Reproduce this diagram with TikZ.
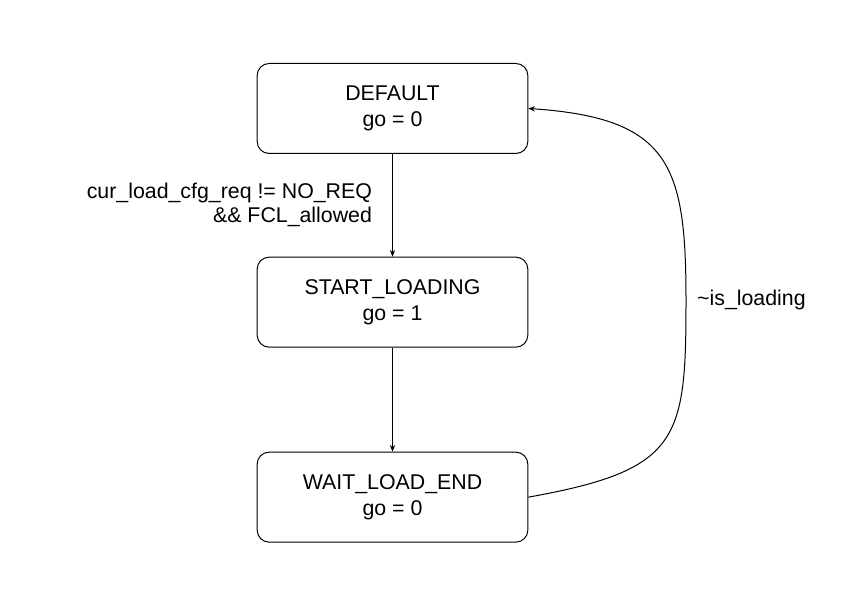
\documentclass[tikz,border=0pt]{standalone}
\usepackage{fontspec}
\setmainfont{Liberation Sans}
\usetikzlibrary{arrows.meta, positioning}
\definecolor{linecol}{RGB}{0, 0, 0}
\tikzset{
  state/.style = {draw=linecol, rounded corners=9pt, align=center,
                  line width=0.75pt, minimum width=203pt, minimum height=67.5pt,
                  font=\fontsize{16}{19.5}\selectfont, inner sep=0pt},
  lbl/.style   = {font=\fontsize{16}{18}\selectfont, inner sep=0pt},
  trans/.style = {-{Stealth[length=5pt, width=4pt]}, draw=linecol, line width=0.75pt},
}

\begin{document}
\begin{tikzpicture}[x=0.75pt, y=0.75pt]

  \useasboundingbox (0,0) rectangle (846,605);

  %% ---------------- states ----------------
  \node[state] (dflt) at (392.5,496.5) {DEFAULT\\go = 0};
  \node[state, below=77pt of dflt] (start) {START\_LOADING\\go = 1};
  \node[state, below=78pt of start] (wait) {WAIT\_LOAD\_END\\go = 0};

  %% ---------------- transitions ----------------
  \draw[trans] (dflt) -- node[lbl, left=15pt, align=right]
       {cur\_load\_cfg\_req != NO\_REQ\\\&\& FCL\_allowed} (start);
  \draw[trans] (start) -- (wait);
  \draw[trans] (wait.east) .. controls (680,135) and (686,165) .. (686,305)
       node[lbl, right=8pt] {\textasciitilde is\_loading}
       .. controls (686,440) and (670,487) .. (dflt.east);

\end{tikzpicture}
\end{document}
